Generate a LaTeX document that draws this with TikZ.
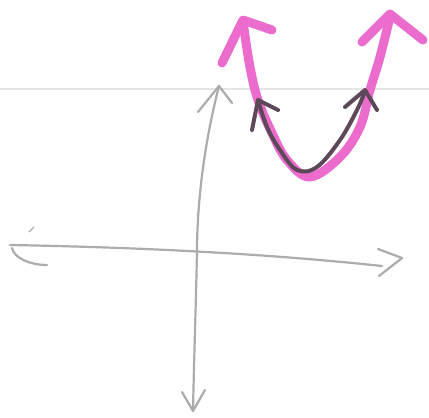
\documentclass[tikz,border=0pt]{standalone}
\definecolor{pinkc}{RGB}{236,108,206}
\definecolor{darkc}{RGB}{92,72,88}
\definecolor{axisc}{RGB}{172,172,172}
\definecolor{faintc}{RGB}{228,228,228}
\tikzset{
  axisline/.style={draw=axisc, line width=2.2pt, line cap=round, line join=round},
  pinkline/.style={draw=pinkc, line width=9pt, line cap=round, line join=round},
  darkline/.style={draw=darkc, line width=4pt, line cap=round, line join=round},
}
\begin{document}
\begin{tikzpicture}[x=1pt,y=-1pt]
\useasboundingbox[fill=white] (0,0) rectangle (429,418);
% faint horizontal line
\draw[faintc, line width=1.5pt] (0,89) -- (429,89);
% x-axis
\draw[axisline] (10,245) .. controls (120,247) and (250,252) .. (382,266);
\draw[axisline] (378,249) -- (402,258) -- (379,276);
\draw[axisline] (12,248) .. controls (14,258) and (30,265) .. (47,265);
\draw[axisc, line width=1.2pt] (29,232) -- (34,227);
% y-axis
\draw[axisline] (219,86) .. controls (205,140) and (197,200) .. (197,252) .. controls (196,300) and (194,360) .. (193,411);
\draw[axisline] (198,112) -- (219,86) -- (232,103);
\draw[axisline] (182,392) -- (193,411) -- (205,390);
% pink parabola
\draw[pinkline] plot[smooth, tension=0.6] coordinates {(243,22) (250,67) (258,100) (272,133) (287,160) (310,177) (340,157) (360,127) (370,90) (380,57) (390,17)};
\draw[pinkline] (222,63) -- (243,20) -- (272,30);
\draw[pinkline] (362,42) -- (390,14) -- (423,40);
% dark parabola
\draw[darkline] plot[smooth, tension=0.6] coordinates {(258,100) (267,127) (280,150) (297,170) (317,167) (340,140) (357,110) (365,91)};
\draw[darkline] (252,130) -- (258,100) -- (278,110);
\draw[darkline] (345,107) -- (365,90) -- (377,110);
\end{tikzpicture}
\end{document}
